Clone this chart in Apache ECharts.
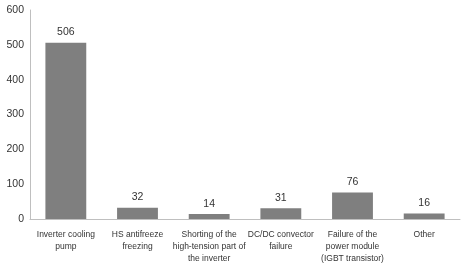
<!DOCTYPE html>
<html>
<head>
<meta charset="utf-8">
<script src="https://cdn.jsdelivr.net/npm/echarts@6/dist/echarts.min.js"></script>
<style>
  html, body { margin: 0; padding: 0; background: #fff; }
  #chart { width: 470px; height: 273px; }
</style>
</head>
<body>
<div id="chart"></div>
<script>
const categories = [
  'Inverter cooling\npump',
  'HS antifreeze\nfreezing',
  'Shorting of the\nhigh-tension part of\nthe inverter',
  'DC/DC convector\nfailure',
  'Failure of the\npower module\n(IGBT transistor)',
  'Other'
]
const counts = [506, 32, 14, 31, 76, 16]
const yTicks = [0, 100, 200, 300, 400, 500, 600]

const chart = echarts.init(document.getElementById('chart'))

chart.setOption({
  animation: false,
  grid: { left: 30, right: 10, top: 10, bottom: 54 },
  xAxis: {
    type: 'category',
    data: categories,
    axisLine: { lineStyle: { color: '#bfbfbf' } },
    axisTick: { show: false },
    axisLabel: {
      interval: 0,
      fontFamily: 'Liberation Sans',
      fontSize: 8.5,
      lineHeight: 12,
      color: '#333',
      margin: 10
    }
  },
  yAxis: {
    type: 'value',
    min: yTicks[0],
    max: yTicks[yTicks.length - 1],
    interval: 100,
    axisLine: { show: true, lineStyle: { color: '#bfbfbf' } },
    axisTick: { show: false },
    splitLine: { show: false },
    axisLabel: {
      fontFamily: 'Liberation Sans',
      fontSize: 10.5,
      color: '#333',
      margin: 6
    }
  },
  series: [
    {
      type: 'bar',
      data: counts,
      barWidth: '57%',
      itemStyle: { color: '#7f7f7f' },
      label: {
        show: true,
        position: 'top',
        distance: 5,
        fontFamily: 'Liberation Sans',
        fontSize: 10.5,
        color: '#333'
      }
    }
  ]
})
</script>
</body>
</html>
